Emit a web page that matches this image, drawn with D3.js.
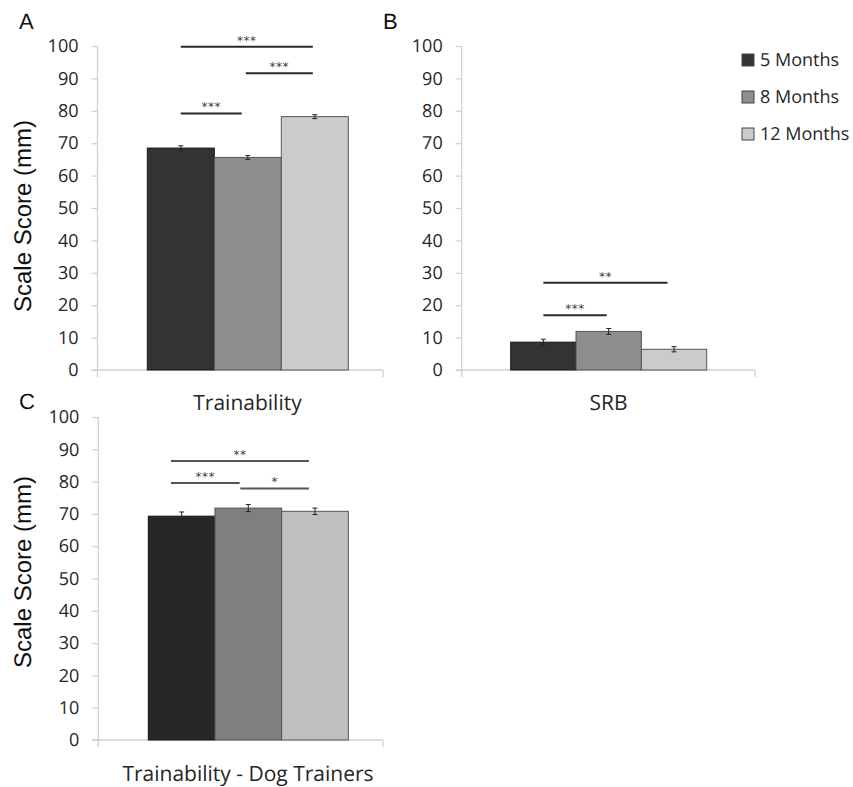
<!DOCTYPE html>
<html>
<head>
<meta charset="utf-8">
<script src="https://cdn.jsdelivr.net/npm/d3@7/dist/d3.min.js"></script>
<style>
  html, body { margin: 0; padding: 0; background: #fff; }
  svg { display: block; }
  text { text-rendering: geometricPrecision; }
</style>
</head>
<body>
<svg id="chart" width="853" height="787"></svg>
<script>
// ---------------- data ----------------
const seriesNames = ["5 Months", "8 Months", "12 Months"];
const yTicks = [0, 10, 20, 30, 40, 50, 60, 70, 80, 90, 100];

const categoryA = "Trainability";
const meansA = [68.5, 65.6, 78.2];
const errorsA = [0.7, 0.6, 0.6];
const sigA = [
  { from: 0.0, to: 1.97, level: 99.8, label: "***" },
  { from: 0.97, to: 1.97, level: 91.6, label: "***" },
  { from: 0.0, to: 0.91, level: 79.2, label: "***" }
];

const categoryB = "SRB";
const meansB = [8.6, 11.9, 6.4];
const errorsB = [0.9, 0.9, 0.8];
const sigB = [
  { from: 0.0, to: 1.9, level: 26.9, label: "**" },
  { from: 0.0, to: 0.97, level: 16.9, label: "***" }
];

const categoryC = "Trainability - Dog Trainers";
const meansC = [69.3, 71.8, 70.8];
const errorsC = [1.3, 1.1, 1.0];
const sigC = [
  { from: -0.16, to: 1.91, level: 86.4, label: "**" },
  { from: -0.16, to: 0.87, level: 79.6, label: "***" },
  { from: 0.88, to: 1.91, level: 77.9, label: "*" }
];

const colorsAB = ["#333333", "#8e8e8e", "#cbcbcb"];
const colorsC = ["#262626", "#7f7f7f", "#bfbfbf"];

// ---------------- drawing ----------------
const svg = d3.select("#chart");
const AXIS_COLOR = "#d2d2d2";
const TEXT_COLOR = "#262626";

function drawPanel(cfg) {
  const g = svg.append("g");
  const y = d3.scaleLinear().domain([0, 100]).range([cfg.y0, cfg.y100]);
  const x = d3.scaleBand().domain(seriesNames).range([cfg.barL, cfg.barR]).padding(0);
  const idx = d3.scaleLinear().domain([0, 1])
    .range([x(seriesNames[0]) + x.bandwidth() / 2, x(seriesNames[1]) + x.bandwidth() / 2]);

  // y axis
  const yAxis = d3.axisLeft(y).tickValues(yTicks).tickSize(6).tickSizeOuter(0).tickPadding(13);
  const ya = g.append("g").attr("transform", `translate(${cfg.axisX},0)`).call(yAxis);
  ya.select(".domain").remove();
  ya.selectAll(".tick line").attr("stroke", AXIS_COLOR).attr("stroke-width", 1.3);
  ya.selectAll(".tick text")
    .attr("fill", TEXT_COLOR)
    .style("font-family", "'Open Sans', sans-serif")
    .style("font-size", "18px");
  // axis lines
  g.append("line").attr("x1", cfg.axisX).attr("x2", cfg.axisX)
    .attr("y1", y(100)).attr("y2", y(0) + 7)
    .attr("stroke", AXIS_COLOR).attr("stroke-width", 1.3);
  g.append("line").attr("x1", cfg.axisX - 6).attr("x2", cfg.axisEnd)
    .attr("y1", y(0)).attr("y2", y(0))
    .attr("stroke", AXIS_COLOR).attr("stroke-width", 1.3);
  g.append("line").attr("x1", cfg.axisEnd).attr("x2", cfg.axisEnd)
    .attr("y1", y(0)).attr("y2", y(0) + 7)
    .attr("stroke", AXIS_COLOR).attr("stroke-width", 1.3);

  // bars
  g.selectAll("rect.bar").data(cfg.means).enter().append("rect")
    .attr("class", "bar")
    .attr("x", (d, i) => x(seriesNames[i]))
    .attr("width", x.bandwidth())
    .attr("y", d => y(d))
    .attr("height", d => y(0) - y(d))
    .attr("fill", (d, i) => cfg.colors[i])
    .attr("stroke", (d, i) => i === 0 ? "#1a1a1a" : "#555555")
    .attr("stroke-width", 1);

  // error bars
  const eb = g.selectAll("g.err").data(cfg.means).enter().append("g").attr("class", "err");
  eb.append("line")
    .attr("x1", (d, i) => x(seriesNames[i]) + x.bandwidth() / 2)
    .attr("x2", (d, i) => x(seriesNames[i]) + x.bandwidth() / 2)
    .attr("y1", (d, i) => y(d - cfg.errors[i]))
    .attr("y2", (d, i) => y(d + cfg.errors[i]))
    .attr("stroke", "#222").attr("stroke-width", 1);
  [-1, 1].forEach(s => {
    eb.append("line")
      .attr("x1", (d, i) => x(seriesNames[i]) + x.bandwidth() / 2 - 2.5)
      .attr("x2", (d, i) => x(seriesNames[i]) + x.bandwidth() / 2 + 2.5)
      .attr("y1", (d, i) => y(d + s * cfg.errors[i]))
      .attr("y2", (d, i) => y(d + s * cfg.errors[i]))
      .attr("stroke", "#222").attr("stroke-width", 1);
  });

  // significance lines
  const sg = g.selectAll("g.sig").data(cfg.sig).enter().append("g").attr("class", "sig");
  sg.append("line")
    .attr("x1", d => idx(d.from)).attr("x2", d => idx(d.to))
    .attr("y1", d => y(d.level)).attr("y2", d => y(d.level))
    .attr("stroke", cfg.sigColor).attr("stroke-width", 2);
  sg.append("text")
    .attr("x", d => (idx(d.from) + idx(d.to)) / 2)
    .attr("y", d => y(d.level) - 2)
    .attr("text-anchor", "middle")
    .attr("fill", "#333333")
    .style("font-family", "'DejaVu Sans', sans-serif")
    .style("font-size", "12px")
    .style("letter-spacing", "0.5px")
    .text(d => d.label);

  // category label
  g.append("text")
    .attr("x", cfg.catX).attr("y", cfg.catY)
    .attr("text-anchor", "middle")
    .attr("fill", TEXT_COLOR)
    .style("font-family", "'Open Sans', sans-serif")
    .style("font-size", "21px")
    .text(cfg.category);

  // y label
  if (cfg.yLabel) {
    g.append("text")
      .attr("transform", `translate(31,${cfg.yLabelY}) rotate(-90)`)
      .attr("text-anchor", "middle")
      .attr("fill", "#111")
      .style("font-family", "'Liberation Sans', Arial, sans-serif")
      .style("font-size", "24px")
      .text(cfg.yLabel);
  }

  // panel letter
  g.append("text")
    .attr("x", cfg.letterX).attr("y", cfg.letterY)
    .attr("fill", "#111")
    .style("font-family", "'Liberation Sans', Arial, sans-serif")
    .style("font-size", "22px")
    .text(cfg.letter);
}

drawPanel({
  letter: "A", letterX: 19, letterY: 29,
  axisX: 97.5, axisEnd: 383, barL: 147.3, barR: 348.3,
  y0: 370, y100: 46,
  means: meansA, errors: errorsA, sig: sigA, colors: colorsAB, sigColor: "#2a2a2a",
  category: categoryA, catX: 247.5, catY: 410,
  yLabel: "Scale Score (mm)", yLabelY: 216
});

drawPanel({
  letter: "B", letterX: 383, letterY: 29,
  axisX: 461.7, axisEnd: 755, barL: 510.7, barR: 706.7,
  y0: 370, y100: 46,
  means: meansB, errors: errorsB, sig: sigB, colors: colorsAB, sigColor: "#2a2a2a",
  category: categoryB, catX: 608.5, catY: 410,
  yLabel: null
});

drawPanel({
  letter: "C", letterX: 19, letterY: 409,
  axisX: 98.3, axisEnd: 383, barL: 148.3, barR: 348.3,
  y0: 740, y100: 417,
  means: meansC, errors: errorsC, sig: sigC, colors: colorsC, sigColor: "#555555",
  category: categoryC, catX: 248, catY: 781,
  yLabel: "Scale Score (mm)", yLabelY: 572
});

// legend
const legend = svg.append("g").attr("transform", "translate(742,0)");
const legendY = d3.scalePoint().domain(seriesNames).range([60, 134]);
const li = legend.selectAll("g").data(seriesNames).enter().append("g")
  .attr("transform", d => `translate(0,${legendY(d)})`);
li.append("rect").attr("x", 0).attr("y", -6).attr("width", 12).attr("height", 12)
  .attr("fill", (d, i) => colorsAB[i]).attr("stroke", "#444").attr("stroke-width", 1);
li.append("text").attr("x", 18).attr("y", 0).attr("dy", "0.35em")
  .attr("fill", TEXT_COLOR)
  .style("font-family", "'Open Sans', sans-serif")
  .style("font-size", "18px")
  .text(d => d);
</script>
</body>
</html>
